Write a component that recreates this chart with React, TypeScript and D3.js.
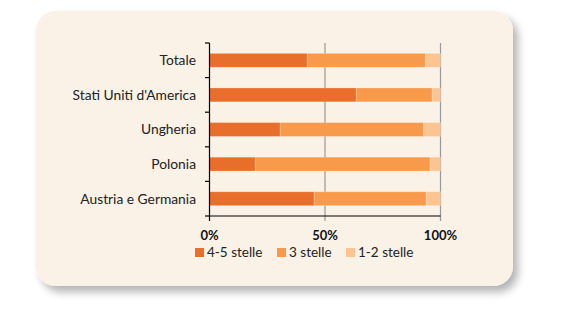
import React from "react";
import * as d3 from "d3";

const categories = ["Totale", "Stati Uniti d'America", "Ungheria", "Polonia", "Austria e Germania"];
const seriesNames = ["4-5 stelle", "3 stelle", "1-2 stelle"];
const high = [42.3, 63.5, 30.6, 19.8, 45.3];
const mid = [51.1, 32.9, 62.1, 75.7, 48.5];
const low = [6.6, 3.6, 7.3, 4.5, 6.2];
const xTicks = [0, 50, 100];
const colors = ["#E76F2B", "#F89A4B", "#FBC490"];

export default function App() {
  const W = 580, H = 325;
  const x = d3.scaleLinear().domain([0, 100]).range([209.5, 440.5]);
  const y = d3.scaleBand<string>().domain(categories).range([43, 216]).paddingInner(0.6).paddingOuter(0.3);
  const yOuter = d3.scaleBand<string>().domain(categories).range([43, 216]);
  const rows = categories.map((c, i) => ({ c, vals: [high[i], mid[i], low[i]] }));
  const font = "Lato, 'Open Sans', sans-serif";
  const legendX = [195, 277, 346];
  return (
    <svg width={W} height={H} style={{ position: "absolute", left: 0, top: 0 }}>
      <defs>
        <filter id="sh" x="-10%" y="-10%" width="130%" height="130%">
          <feGaussianBlur in="SourceAlpha" stdDeviation="4" />
          <feOffset dx="5" dy="6" result="b" />
          <feComponentTransfer><feFuncA type="linear" slope="0.3" /></feComponentTransfer>
          <feMerge><feMergeNode /><feMergeNode in="SourceGraphic" /></feMerge>
        </filter>
      </defs>
      <rect x={0} y={0} width={W} height={H} fill="#ffffff" />
      <rect x={36} y={11} width={477} height={275} rx={20} fill="#FAF1E7" filter="url(#sh)" />
      {xTicks.slice(1).map((t) => (
        <line key={t} x1={x(t)} x2={x(t)} y1={43} y2={221} stroke="#999" strokeWidth={1.2} />
      ))}
      {rows.map((r) => {
        let acc = 0;
        return (
          <g key={r.c}>
            {r.vals.map((v, j) => {
              const x0 = x(acc);
              acc += v;
              return (
                <rect key={j} x={x0} y={y(r.c)!} width={x(acc) - x0} height={y.bandwidth()}
                  fill={colors[j]} stroke="rgba(255,255,255,0.25)" strokeWidth={0.8} />
              );
            })}
            <text x={196} y={y(r.c)! + y.bandwidth() / 2} dy="0.35em" textAnchor="end"
              fontFamily={font} fontSize={13.8} fill="#222">{r.c}</text>
          </g>
        );
      })}
      <line x1={209.5} x2={209.5} y1={43} y2={216} stroke="#000" strokeWidth={1.2} />
      {[...categories.map((c) => yOuter(c)!), 216].map((v, i) => (
        <line key={i} x1={205} x2={209.5} y1={v} y2={v} stroke="#000" strokeWidth={1.2} />
      ))}
      <line x1={209.5} x2={440.5} y1={216} y2={216} stroke="#000" strokeWidth={1.2} />
      <line x1={209.5} x2={209.5} y1={216} y2={221} stroke="#000" strokeWidth={1.2} />
      {xTicks.map((t) => (
        <text key={t} x={x(t)} y={239.5} textAnchor="middle" fontFamily={font} fontWeight="bold"
          fontSize={13} fill="#111">{t}%</text>
      ))}
      {seriesNames.map((s, i) => (
        <g key={s}>
          <rect x={legendX[i]} y={248} width={9} height={9} fill={colors[i]} />
          <text x={legendX[i] + 12} y={257} fontFamily={font} fontSize={13.5} fill="#222">{s}</text>
        </g>
      ))}
    </svg>
  );
}
